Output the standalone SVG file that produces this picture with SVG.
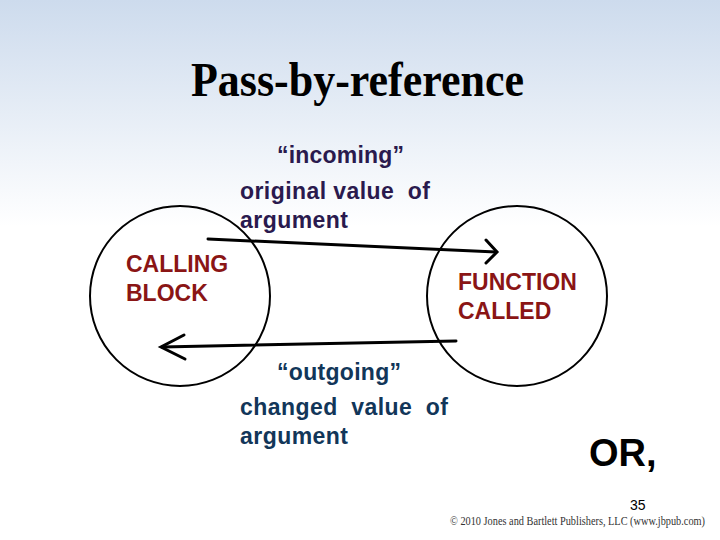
<svg xmlns="http://www.w3.org/2000/svg" width="720" height="540" viewBox="0 0 720 540">
<defs>
<linearGradient id="bg" x1="0" y1="0" x2="0" y2="1">
<stop offset="0" stop-color="#cddbed"/>
<stop offset="0.42" stop-color="#ffffff"/>
<stop offset="1" stop-color="#ffffff"/>
</linearGradient>
<style>
.node{fill:none;stroke:#000;stroke-width:2}
.conn{fill:none;stroke:#000;stroke-width:3;stroke-linecap:round;stroke-linejoin:miter}
.lbl{font-family:"Liberation Sans",Arial,sans-serif;font-weight:bold;font-size:23px;white-space:pre}
.red{fill:#8a1515}
.in{fill:#2a1a4e}
.out{fill:#123659}
</style>
</defs>
<rect x="0" y="0" width="720" height="540" fill="url(#bg)"/>
<text x="191" y="96" font-family="'Liberation Serif','Times New Roman',serif" font-weight="bold" font-size="49" textLength="333" lengthAdjust="spacingAndGlyphs" fill="#000">Pass-by-reference</text>
<g id="calling-block">
<circle class="node" cx="180" cy="296" r="90"/>
<text class="lbl red" x="126" y="272">CALLING</text>
<text class="lbl red" x="126" y="301">BLOCK</text>
</g>
<g id="function-called">
<circle class="node" cx="517" cy="296" r="90"/>
<text class="lbl red" x="458" y="290">FUNCTION</text>
<text class="lbl red" x="458" y="319">CALLED</text>
</g>
<g id="connectors">
<line class="conn" x1="208" y1="239" x2="496" y2="252"/>
<polyline class="conn" points="486,240 497,252 486,263"/>
<line class="conn" x1="456" y1="341" x2="162" y2="347"/>
<polyline class="conn" points="184,335 161,347 185,359"/>
</g>
<g id="incoming-label">
<text class="lbl in" x="277" y="163" textLength="127">“incoming”</text>
<text class="lbl in" x="240" y="199" xml:space="preserve" textLength="190">original value  of</text>
<text class="lbl in" x="240" y="228" textLength="108">argument</text>
</g>
<g id="outgoing-label">
<text class="lbl out" x="277" y="380" textLength="124">“outgoing”</text>
<text class="lbl out" x="240" y="415" xml:space="preserve" textLength="208">changed  value  of</text>
<text class="lbl out" x="240" y="444" textLength="108">argument</text>
</g>
<text x="589" y="466" font-family="'Liberation Sans',Arial,sans-serif" font-weight="bold" font-size="38" fill="#000">OR,</text>
<text x="630" y="510" font-family="'Liberation Sans',Arial,sans-serif" font-size="14" fill="#000">35</text>
<text x="450" y="525" font-family="'Liberation Serif','Times New Roman',serif" font-size="12.5" textLength="255" lengthAdjust="spacingAndGlyphs" fill="#333">© 2010 Jones and Bartlett Publishers, LLC (www.jbpub.com)</text>
</svg>
